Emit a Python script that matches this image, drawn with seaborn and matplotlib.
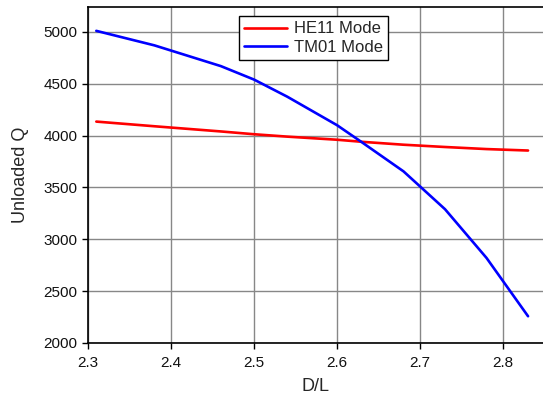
import matplotlib
matplotlib.use("Agg")
import matplotlib.pyplot as plt
import seaborn as sns
import pandas as pd

# Unloaded Q versus D/L for the two resonator modes
d_over_l = [2.31, 2.38, 2.46, 2.50, 2.54, 2.60, 2.63, 2.68, 2.73, 2.78, 2.83]
q_he11 = [4135, 4090, 4040, 4013, 3990, 3960, 3940, 3912, 3890, 3870, 3856]
q_tm01 = [5010, 4870, 4670, 4540, 4375, 4100, 3935, 3655, 3290, 2820, 2258]
modes = ["HE11 Mode", "TM01 Mode"]

df = pd.concat([
    pd.DataFrame({"D/L": d_over_l, "Q": q_he11, "Mode": modes[0]}),
    pd.DataFrame({"D/L": d_over_l, "Q": q_tm01, "Mode": modes[1]}),
])

sns.set_style("white")
plt.rcParams["font.family"] = ["Liberation Sans", "DejaVu Sans"]

fig = plt.figure(figsize=(5.43, 3.96), dpi=100)
ax = fig.add_axes([88 / 543, 1 - 343 / 396, 1 - 88 / 543, (343 - 7) / 396])

sns.lineplot(data=df, x="D/L", y="Q", hue="Mode", hue_order=modes,
             palette={"HE11 Mode": "#ff0000", "TM01 Mode": "#0000ff"},
             linewidth=1.9, ax=ax, sort=False)

ax.set_xlim(2.3, 2.848)
ax.set_ylim(2000, 5240)
ax.set_xticks([2.3, 2.4, 2.5, 2.6, 2.7, 2.8])
ax.set_yticks([2000, 2500, 3000, 3500, 4000, 4500, 5000])
ax.grid(True, color="#878787", linewidth=1.0)
ax.set_axisbelow(True)

for side in ["left", "bottom", "top"]:
    ax.spines[side].set_color("black")
    ax.spines[side].set_linewidth(1.2)
ax.spines["right"].set_visible(False)

ax.tick_params(axis="both", direction="out", length=4.3, width=1, color="black",
               labelsize=11, labelcolor="#111111", left=True, bottom=True, pad=3.5)
ax.tick_params(axis="x", pad=5)
ax.set_xlabel("D/L", fontsize=13, labelpad=6)
ax.set_ylabel("Unloaded Q", fontsize=13, labelpad=10)

leg = ax.legend(loc="upper center", bbox_to_anchor=(0.495, 0.972), fontsize=12,
                frameon=True, fancybox=False, handlelength=2.6, handletextpad=0.4,
                borderpad=0.3, labelspacing=0.2, borderaxespad=0)
leg.get_frame().set_edgecolor("black")
leg.get_frame().set_linewidth(1.0)
leg.get_frame().set_alpha(1)

fig.savefig("out.png", dpi=100)
